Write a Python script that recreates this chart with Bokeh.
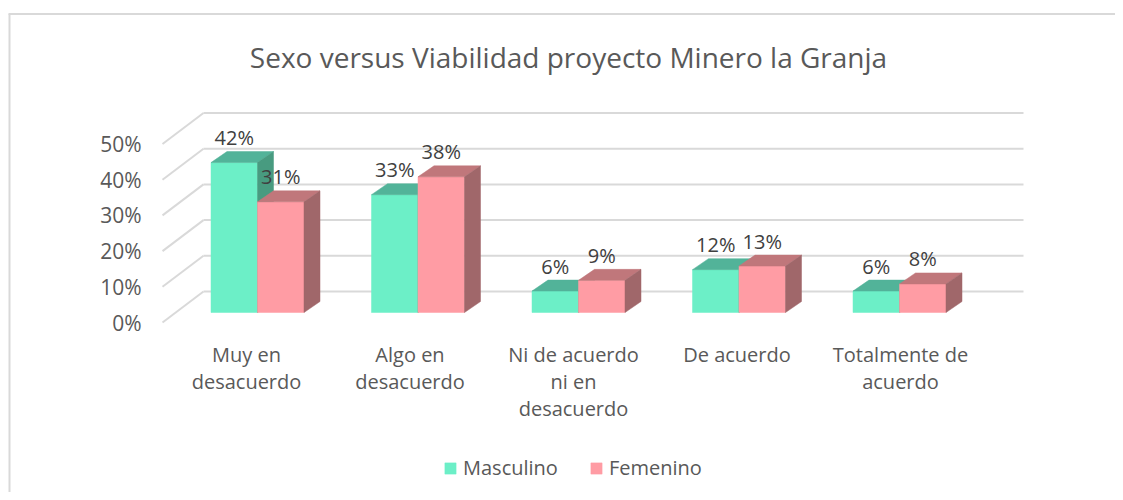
from bokeh.plotting import figure
from bokeh.models import Range1d, Legend, LegendItem
from bokeh.core.properties import value
from bokeh.embed import file_html
from bokeh.resources import INLINE

# ---------------- data ----------------
title_text = "Sexo versus Viabilidad proyecto Minero la Granja"
categories = ["Muy en\ndesacuerdo", "Algo en\ndesacuerdo", "Ni de acuerdo\nni en\ndesacuerdo",
              "De acuerdo", "Totalmente de\nacuerdo"]
masculino = [42, 33, 6, 12, 6]
femenino = [31, 38, 9, 13, 8]
series_names = ["Masculino", "Femenino"]
y_ticks = [0, 10, 20, 30, 40, 50]
y_tick_labels = ["0%", "10%", "20%", "30%", "40%", "50%"]

# ---------------- layout / style ----------------
FONT = "Open Sans"
W, H = 1115, 492
PAGE = 0
X0, SX = 257.0, 160.5      # page px of category 0 (bar plane), px per category
Y0, SY = 312.0, 3.57       # page px of value 0 (bar plane), px per percent
LABEL_X0, LABEL_SX = 246.0, 163.5  # category label placement (front plane perspective)


def px_x(page_x):
    return (page_x - X0) / SX


def px_y(page_y):
    return (Y0 - page_y) / SY


BW = 46.5 / SX             # bar width
DX, DY = 16 / SX, 11 / SY  # bar depth
BACK_DY = 21 / SY          # back wall offset (up)
FRONT_DY = -10 / SY        # front axis offset (down)

green = ("#6CEFC7", "#52B399", "#489B80")
pink = ("#FF9CA4", "#C0777B", "#A0676A")
grid_col = "#D9D9D9"

p = figure(width=W, height=H, output_backend="svg", toolbar_location=None,
           x_range=Range1d(px_x(PAGE), px_x(PAGE + W)),
           y_range=Range1d(px_y(PAGE + H), px_y(PAGE)),
           x_axis_location=None, y_axis_location=None, min_border=0)
p.grid.visible = False
p.outline_line_color = None
p.background_fill_color = "white"

# chart border
p.multi_line(xs=[[px_x(8), px_x(1123)], [px_x(9), px_x(9)]],
             ys=[[px_y(13.5), px_y(13.5)], [px_y(13.5), px_y(500)]],
             line_color="#D9D9D9", line_width=2)

# back wall gridlines and side oblique lines
back_left, back_right, front_left = px_x(203), px_x(1023), px_x(162)
p.multi_line(xs=[[back_left, back_right] for _ in y_ticks],
             ys=[[v + BACK_DY, v + BACK_DY] for v in y_ticks],
             line_color=grid_col, line_width=2)
p.multi_line(xs=[[front_left, back_left] for _ in y_ticks],
             ys=[[v + FRONT_DY, v + BACK_DY] for v in y_ticks],
             line_color=grid_col, line_width=2)

# y tick labels
p.text(x=[px_x(141)] * len(y_ticks), y=[v + FRONT_DY for v in y_ticks], text=y_tick_labels,
       text_align="right", text_baseline="middle", text_font=value(FONT),
       text_font_size="21px", text_color="#595959")

# 3D bars
front_renderers = []
for s, (vals, cols) in enumerate([(masculino, green), (femenino, pink)]):
    lefts = [i + (s - 1) * BW for i in range(len(vals))]
    rights = [l + BW for l in lefts]
    fr = p.quad(left=lefts, right=rights, bottom=[0] * len(vals), top=vals,
                fill_color=cols[0], line_color=cols[0], line_width=0.5)
    front_renderers.append(fr)
    p.patches(xs=[[l, r, r + DX, l + DX] for l, r in zip(lefts, rights)],
              ys=[[v, v, v + DY, v + DY] for v in vals],
              fill_color=cols[1], line_color=cols[1], line_width=0.5)
    p.patches(xs=[[r, r + DX, r + DX, r] for r in rights],
              ys=[[0, DY, v + DY, v] for v in vals],
              fill_color=cols[2], line_color=cols[2], line_width=0.5)

# data labels
for s, vals in enumerate([masculino, femenino]):
    cx = [i + (s - 0.5) * BW for i in range(len(vals))]
    p.text(x=cx, y=[v + 25 / SY for v in vals], text=[f"{v}%" for v in vals],
           text_align="center", text_baseline="middle", text_font=value(FONT),
           text_font_size="20px", text_color="#404040")

# category labels
p.text(x=[px_x(LABEL_X0 + LABEL_SX * i) for i in range(len(categories))],
       y=[px_y(340)] * len(categories),
       text=categories, text_align="center", text_baseline="top", text_font=value(FONT),
       text_font_size="20px", text_color="#595959", text_line_height=1.0)

# title
p.text(x=[px_x(568)], y=[px_y(56)], text=[title_text], text_align="center",
       text_baseline="middle", text_font=value(FONT), text_font_size="28px",
       text_color="#595959")

legend = Legend(items=[LegendItem(label=series_names[0], renderers=[front_renderers[0]]),
                       LegendItem(label=series_names[1], renderers=[front_renderers[1]])],
                orientation="horizontal", location=(443, 11), glyph_width=14, glyph_height=14,
                label_text_font=FONT, label_text_font_size="20px", label_text_color="#595959",
                label_standoff=6, spacing=31, padding=0, margin=0,
                border_line_color=None, background_fill_alpha=0)
p.add_layout(legend, "center")

open("out.html", "w").write(file_html(p, INLINE))
